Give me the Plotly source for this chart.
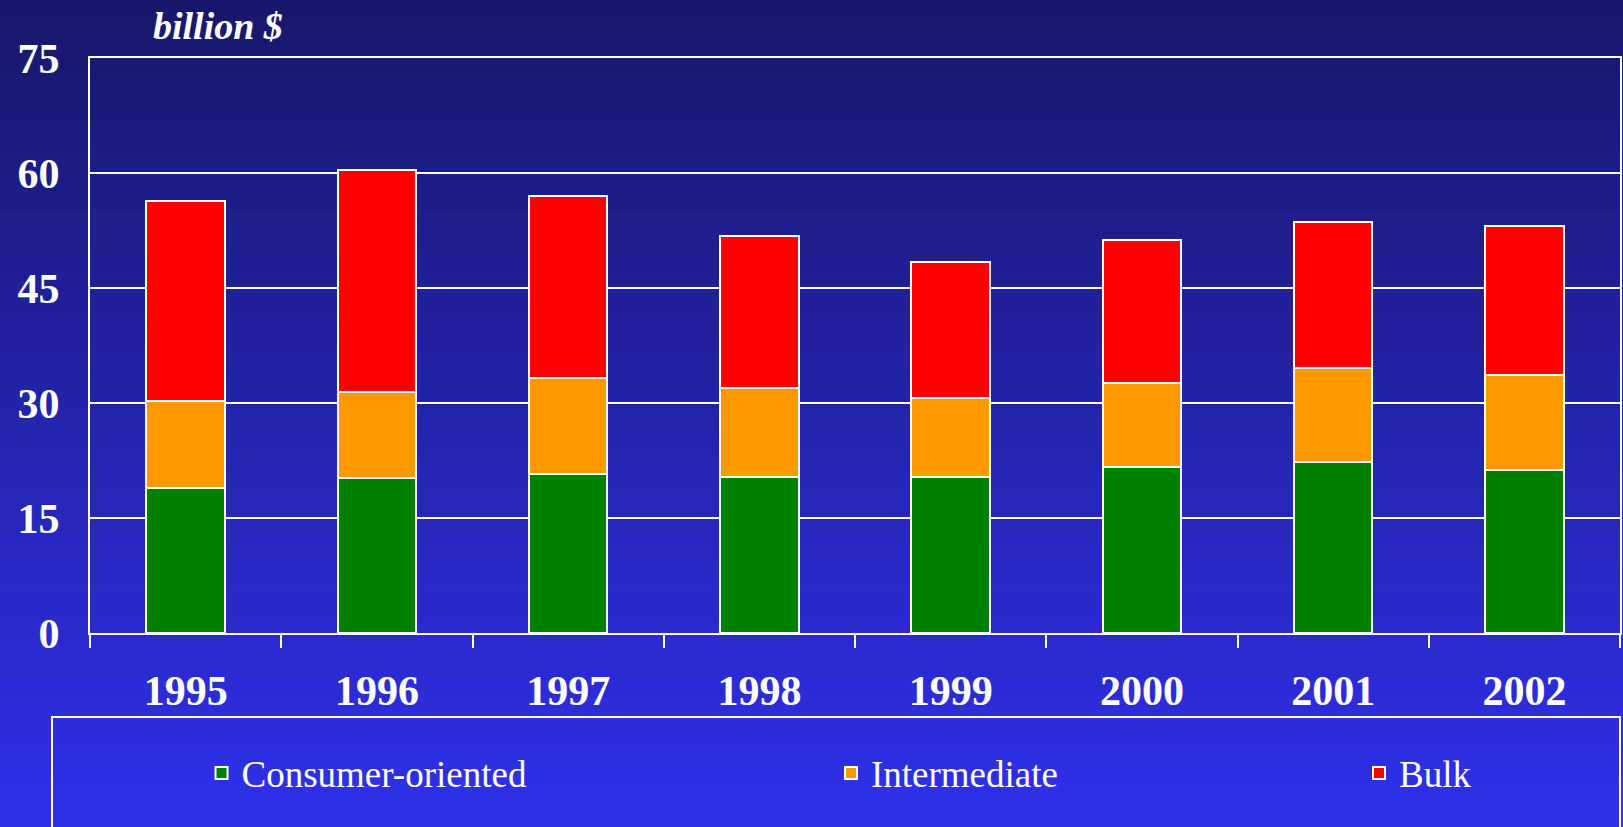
import plotly.graph_objects as go

years = ["1995", "1996", "1997", "1998", "1999", "2000", "2001", "2002"]
consumer = [18.9, 20.2, 20.8, 20.3, 20.3, 21.6, 22.3, 21.3]
intermediate = [11.3, 11.3, 12.5, 11.7, 10.4, 11.0, 12.3, 12.3]
bulk = [26.1, 28.9, 23.7, 19.8, 17.7, 18.7, 19.0, 19.5]
y_ticks = [0, 15, 30, 45, 60, 75]

W, H = 1623, 827
ML, MR, MT, MB = 90, 3, 58, 194
PW = W - ML - MR
PH = H - MT - MB

def px_x(p):
    return (p - ML) / PW

def px_y(p):
    return (H - MB - p) / PH

fig = go.Figure()
series = [("Consumer-oriented", consumer, "#008000", "legend"),
          ("Intermediate", intermediate, "#FF9900", "legend2"),
          ("Bulk", bulk, "#FF0000", "legend3")]
for name, vals, col, lg in series:
    fig.add_trace(go.Bar(x=years, y=vals, name=name, legend=lg,
                         marker=dict(color=col, line=dict(color="white", width=2))))

# background gradient strips
shapes = []
top = (23, 23, 106)
bot = (48, 48, 236)
N = 90
for i in range(N):
    t = (i + 0.5) / N
    c = tuple(int(round(top[k] + (bot[k] - top[k]) * t)) for k in range(3))
    y0 = H * i / N
    y1 = H * (i + 1) / N + 1
    shapes.append(dict(type="rect", xref="paper", yref="paper", layer="below",
                       x0=px_x(-2), x1=px_x(W + 2), y0=px_y(y1), y1=px_y(y0),
                       line=dict(width=0), fillcolor="rgb(%d,%d,%d)" % c))
# legend frame
shapes.append(dict(type="rect", xref="paper", yref="paper", layer="above",
                   x0=px_x(52), x1=px_x(1620), y0=px_y(840), y1=px_y(717),
                   line=dict(color="white", width=2), fillcolor="rgba(0,0,0,0)"))

legend_font = dict(family="Liberation Serif", size=37, color="white")
def leg(xpx):
    return dict(xref="container", yref="container", x=(xpx - 20) / W, y=1 - 773.5 / H,
                xanchor="left", yanchor="middle", bgcolor="rgba(0,0,0,0)",
                borderwidth=0, font=legend_font)

fig.update_layout(
    width=W, height=H,
    margin=dict(l=ML, r=MR, t=MT, b=MB, autoexpand=False),
    paper_bgcolor="#1f1f90", plot_bgcolor="rgba(0,0,0,0)",
    barmode="stack", bargap=0.59,
    shapes=shapes,
    showlegend=True,
    legend=leg(221.5), legend2=leg(851), legend3=leg(1379),
    font=dict(family="Liberation Serif", color="white"),
    xaxis=dict(showline=True, linecolor="white", linewidth=2, mirror=True,
               ticks="outside", tickson="boundaries", ticklen=13, tickwidth=2, tickcolor="white",
               tickfont=dict(family="Liberation Serif", size=42, color="white", weight="bold"),
               ticklabelstandoff=20, showgrid=False, fixedrange=True),
    yaxis=dict(range=[0, 75], tickvals=y_ticks, showline=True, linecolor="white", linewidth=2,
               mirror=True, showgrid=True, gridcolor="white", gridwidth=2, zeroline=False,
               ticks="", tickfont=dict(family="Liberation Serif", size=42, color="white", weight="bold"),
               ticklabelstandoff=20),
    annotations=[dict(text="billion $", xref="paper", yref="paper", x=px_x(218), y=px_y(26),
                      xanchor="center", yanchor="middle", showarrow=False,
                      font=dict(family="Liberation Serif", size=38, color="white",
                                weight="bold", style="italic"))],
)

fig.write_html("out.html", config={"displayModeBar": False},
               post_script="document.body.style.margin='0';document.body.style.background='rgb(23,23,106)';")
